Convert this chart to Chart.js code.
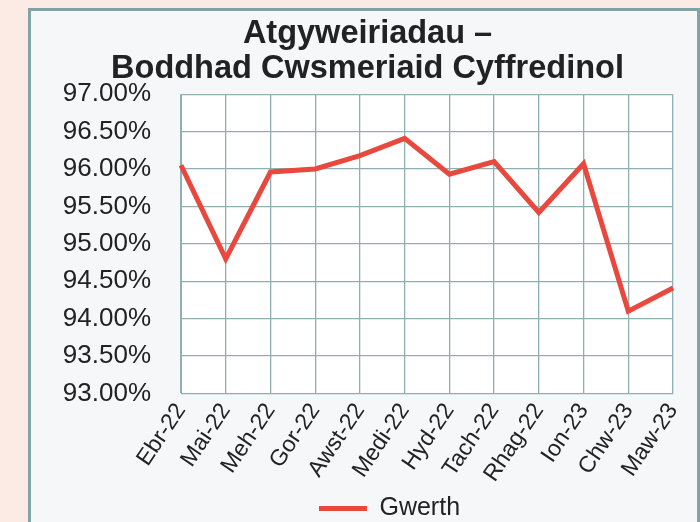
<!DOCTYPE html>
<html>
<head>
  <title>Atgyweiriadau - Boddhad Cwsmeriaid</title>
  <script src="https://cdn.jsdelivr.net/npm/chart.js"></script>
  <style>
    body { margin: 0; background-color: #fcebe5; font-family: "Liberation Sans", Arial, sans-serif; overflow: hidden; }
    .panel { position: absolute; left: 28px; top: 8px; width: 666px; height: 530px; border: 3px solid #7fa4a7; background: #f6f7f9; }
    canvas { display: block; }
  </style>
</head>
<body>
  <div class="panel"><canvas id="chart" width="666" height="530"></canvas></div>
  <script>
    const months = ['Ebr-22', 'Mai-22', 'Meh-22', 'Gor-22', 'Awst-22', 'Medi-22', 'Hyd-22', 'Tach-22', 'Rhag-22', 'Ion-23', 'Chw-23', 'Maw-23'];
    const gwerth = [96.05, 94.80, 95.96, 96.00, 96.18, 96.41, 95.93, 96.10, 95.42, 96.07, 94.10, 94.41];
    const titleLines = ['Atgyweiriadau \u2013', 'Boddhad Cwsmeriaid Cyffredinol'];

    // white plot area behind grid
    const plotBg = {
      id: 'plotBg',
      beforeDraw(chart) {
        const a = chart.chartArea;
        const ctx = chart.ctx;
        ctx.save();
        ctx.fillStyle = '#ffffff';
        ctx.fillRect(a.left, a.top, a.right - a.left, a.bottom - a.top);
        ctx.restore();
      }
    };

    // legend sits a bit right of centre in the original
    const legendNudge = {
      id: 'legendNudge',
      afterLayout(chart) {
        chart.legend.left += 22;
        chart.legend.right += 22;
      }
    };

    const ctx = document.getElementById('chart').getContext('2d');
    new Chart(ctx, {
      type: 'line',
      data: {
        labels: months,
        datasets: [{
          label: 'Gwerth',
          data: gwerth,
          borderColor: '#e8483d',
          backgroundColor: '#e8483d',
          borderWidth: 5,
          pointRadius: 0,
          tension: 0
        }]
      },
      options: {
        responsive: false,
        animation: false,
        layout: { padding: { left: 31, right: 24, top: 5, bottom: 10 } },
        plugins: {
          title: {
            display: true,
            text: titleLines,
            color: '#222',
            font: { family: 'Liberation Sans', size: 32.5, weight: 'bold', lineHeight: 1.08 },
            padding: { top: 0, bottom: 8 }
          },
          legend: {
            position: 'bottom',
            labels: {
              usePointStyle: true,
              pointStyle: 'line',
              pointStyleWidth: 48,
              color: '#222',
              font: { family: 'Liberation Sans', size: 25 },
              padding: 4
            }
          },
          tooltip: { enabled: false }
        },
        scales: {
          x: {
            offset: false,
            // keep the plot edge where the layout padding puts it
            afterFit(scale) { scale.paddingRight = 0; scale.paddingLeft = 0; },
            grid: { color: '#8fb0b2', lineWidth: 1.3, drawTicks: false },
            border: { color: '#8fb0b2' },
            ticks: {
              color: '#222',
              font: { family: 'Liberation Sans', size: 23 },
              minRotation: 56,
              maxRotation: 56,
              padding: 5,
              autoSkip: false
            }
          },
          y: {
            min: 93,
            max: 97,
            afterFit(scale) { scale.width = 119; },
            grid: { color: '#8fb0b2', lineWidth: 1.3, drawTicks: false },
            border: { color: '#8fb0b2' },
            ticks: {
              stepSize: 0.5,
              color: '#222',
              padding: 30,
              font: { family: 'Liberation Sans', size: 26 },
              callback: v => v.toFixed(2) + '%'
            }
          }
        }
      },
      plugins: [plotBg, legendNudge]
    });
  </script>
</body>
</html>
